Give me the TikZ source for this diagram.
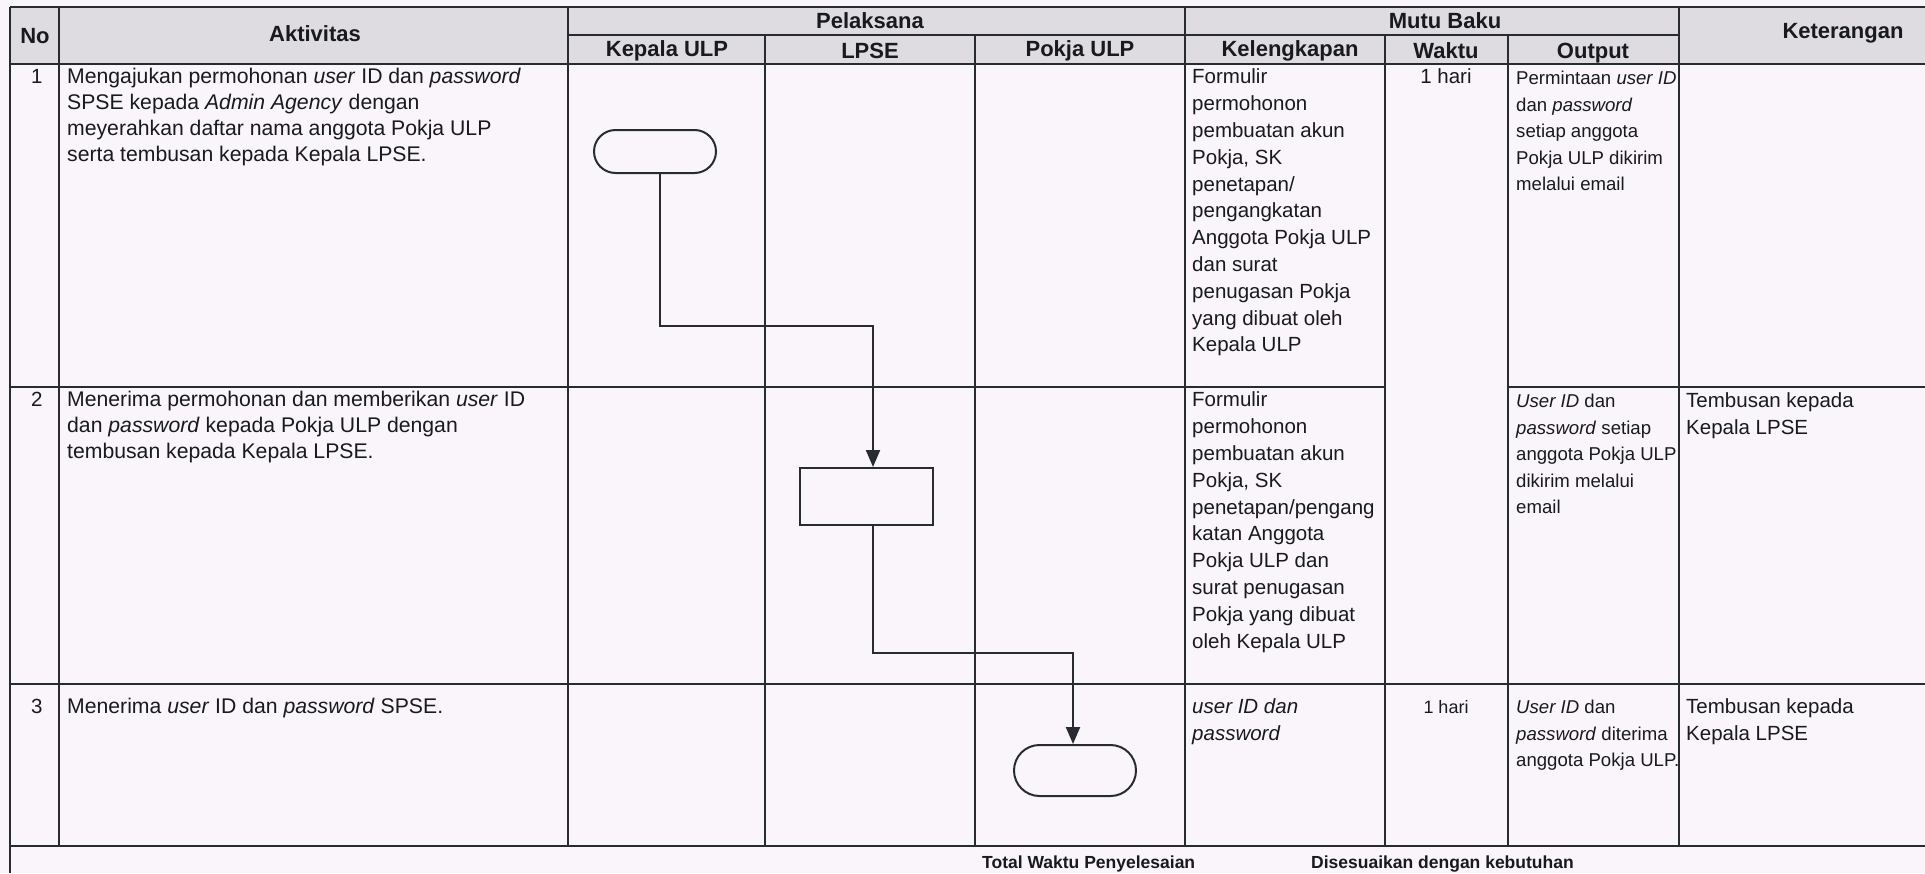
\documentclass[tikz,border=0pt]{standalone}
\usepackage{fontspec}
\setmainfont{Liberation Sans}
\usetikzlibrary{arrows.meta,shapes.misc,calc}
\definecolor{bg}{RGB}{250,245,250}
\definecolor{hdr}{RGB}{222,220,224}
\definecolor{ln}{RGB}{40,44,50}
\definecolor{tx}{RGB}{24,26,30}
\begin{document}
\begin{tikzpicture}[x=1pt,y=-1pt,
  grid/.style={draw=ln, line width=1.8pt},
  txt/.style={anchor=north west, inner sep=0pt, align=left, text=tx, font=\fontsize{20.5}{26.8}\selectfont},
  act/.style={txt, font=\fontsize{21.2}{26}\selectfont},
  outp/.style={txt, font=\fontsize{18.6}{26.5}\selectfont},
  hd/.style={inner sep=0pt, text=tx, font=\bfseries\fontsize{22}{26}\selectfont},
  tot/.style={anchor=base west, inner sep=0pt, text=tx, font=\bfseries\fontsize{17.5}{22}\selectfont},
  term/.style={draw=ln, line width=2pt, rounded rectangle, minimum width=122pt, minimum height=43pt, inner sep=0pt},
  proc/.style={draw=ln, line width=2pt, rectangle, minimum width=133pt, minimum height=57pt, inner sep=0pt},
  conn/.style={draw=ln, line width=2.2pt, -{Triangle[length=17pt,width=14pt]}}
]
\useasboundingbox[fill=bg] (0,0) rectangle (1925,873);
% header shading
\fill[hdr] (10,7) rectangle (1925,64);
% horizontal rules
\draw[grid] (10,7) -- (1925,7);
\draw[grid] (568,35) -- (1679,35);
\draw[grid] (10,64) -- (1925,64);
\draw[grid] (10,387) -- (1385,387);
\draw[grid] (1508,387) -- (1925,387);
\draw[grid] (10,684) -- (1925,684);
\draw[grid] (10,846) -- (1925,846);
% vertical rules
\draw[grid] (10,7) -- (10,873);
\draw[grid] (59,7) -- (59,846);
\draw[grid] (568,7) -- (568,846);
\draw[grid] (765,35) -- (765,846);
\draw[grid] (975,35) -- (975,846);
\draw[grid] (1185,7) -- (1185,846);
\draw[grid] (1385,35) -- (1385,846);
\draw[grid] (1508,35) -- (1508,846);
\draw[grid] (1679,7) -- (1679,846);

% header texts
\node[hd] (hno) at (35,36) {No};
\node[hd] (hakt) at (315,34) {Aktivitas};
\node[hd] (hpel) at (870,21) {Pelaksana};
\node[hd] (hmut) at (1445,21) {Mutu Baku};
\node[hd] (hket) at (1843,33) {Keterangan};
\node[hd] (hkep) at (667,51) {Kepala ULP};
\node[hd] (hlpse) at (870,51) {LPSE};
\node[hd] (hpok) at (1080,51) {Pokja ULP};
\node[hd] (hkel) at (1290,51) {Kelengkapan};
\node[hd] (hwak) at (1446,51) {Waktu};
\node[hd] (hout) at (1593,53) {Output};

% row 1
\node[txt] (no1) at (31,65) {\strut 1};
\node[act] (a1) at (67,65) {\strut Mengajukan permohonan \textit{user} ID dan \textit{password}\\SPSE kepada \textit{Admin Agency} dengan\\meyerahkan daftar nama anggota Pokja ULP\\serta tembusan kepada Kepala LPSE.};
\node[txt] (k1) at (1192,65) {\strut Formulir\\permohonon\\pembuatan akun\\Pokja, SK\\penetapan/\\pengangkatan\\Anggota Pokja ULP\\dan surat\\penugasan Pokja\\yang dibuat oleh\\Kepala ULP};
\node[txt, anchor=north] (w1) at (1446,65) {\strut 1 hari};
\node[outp] (o1) at (1516,66) {\strut Permintaan \textit{user ID}\\dan \textit{password}\\setiap anggota\\Pokja ULP dikirim\\melalui email};

% row 2
\node[txt] (no2) at (31,388) {\strut 2};
\node[act] (a2) at (67,388) {\strut Menerima permohonan dan memberikan \textit{user} ID\\dan \textit{password} kepada Pokja ULP dengan\\tembusan kepada Kepala LPSE.};
\node[txt] (k2) at (1192,388) {\strut Formulir\\permohonon\\pembuatan akun\\Pokja, SK\\penetapan/pengang\\katan Anggota\\Pokja ULP dan\\surat penugasan\\Pokja yang dibuat\\oleh Kepala ULP};
\node[outp] (o2) at (1516,389) {\strut \textit{User ID} dan\\\textit{password} setiap\\anggota Pokja ULP\\dikirim melalui\\email};
\node[txt] (c2) at (1686,389) {\strut Tembusan kepada\\Kepala LPSE};

% row 3
\node[txt] (no3) at (31,695) {\strut 3};
\node[act] (a3) at (67,695) {\strut Menerima \textit{user} ID dan \textit{password} SPSE.};
\node[txt] (k3) at (1192,695) {\strut \textit{user ID dan}\\\textit{password}};
\node[txt, anchor=north, font=\fontsize{18}{26.5}\selectfont] (w3) at (1446,695) {\strut 1 hari};
\node[outp] (o3) at (1516,695) {\strut \textit{User ID} dan\\\textit{password} diterima\\anggota Pokja ULP.};
\node[txt] (c3) at (1686,695) {\strut Tembusan kepada\\Kepala LPSE};

% total row
\node[tot] (totl) at (982,868) {Total Waktu Penyelesaian};
\node[tot] (dis) at (1311,868) {Disesuaikan dengan kebutuhan};

% flowchart
\node[term] (start) at (655,151.5) {};
\node[proc] (box) at (866,496.5) {};
\node[term, minimum height=51pt] (end) at (1075,770.5) {};
\coordinate (c1) at (873,326);
\coordinate (c2) at (1073,653);
\draw[conn] ([xshift=5pt]start.south) |- (c1) -- ([xshift=7pt]box.north);
\draw[conn] ([xshift=7pt]box.south) |- (c2) -- ([xshift=-2pt]end.north);
\end{tikzpicture}
\end{document}
